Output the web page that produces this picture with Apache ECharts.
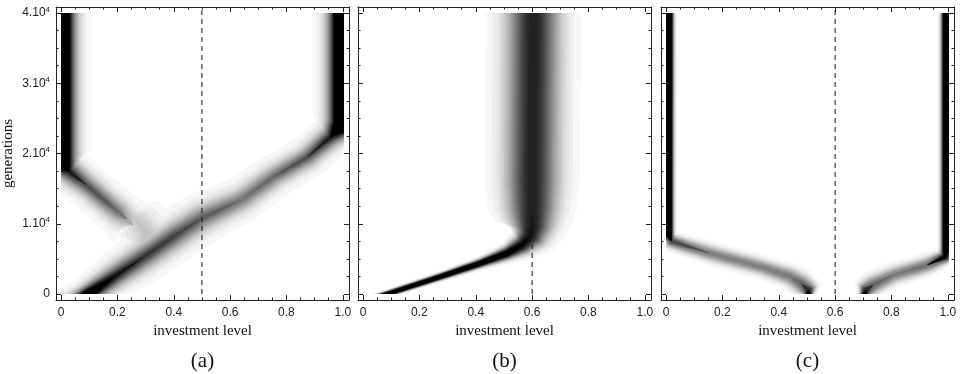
<!DOCTYPE html>
<html>
<head>
<meta charset="utf-8">
<script src="https://cdn.jsdelivr.net/npm/echarts@6/dist/echarts.min.js"></script>
<style>
  html, body { margin: 0; padding: 0; background: #fff; }
  #chart { width: 964px; height: 374px; }
</style>
</head>
<body>
<div id="chart"></div>
<script>
// each row: [generation, investment level, spread, peak density]
const aLeftBranch = [
  [40000, 0.0, 0.024, 2.0],
  [18600, 0.0, 0.024, 2.0],
  [17400, 0.03, 0.022, 0.9],
  [15500, 0.09, 0.021, 0.7],
  [13300, 0.155, 0.021, 0.65],
  [11600, 0.205, 0.023, 0.55],
  [10600, 0.235, 0.026, 0.35],
  [9800, 0.255, 0.028, 0.05],
];
const aCloud = [
  [12000, 0.23, 0.02, 0.03],
  [10400, 0.27, 0.035, 0.22],
  [8500, 0.31, 0.04, 0.24],
  [6500, 0.28, 0.033, 0.16],
  [4500, 0.22, 0.02, 0.03],
];
const aMainBranch = [
  [0, 0.10, 0.016, 1.6],
  [2500, 0.19, 0.021, 0.95],
  [5300, 0.295, 0.024, 0.8],
  [8200, 0.40, 0.025, 0.75],
  [10800, 0.50, 0.025, 0.65],
  [13400, 0.64, 0.023, 0.55],
  [16700, 0.755, 0.021, 0.6],
  [19500, 0.875, 0.02, 0.7],
  [22300, 0.955, 0.02, 0.9],
  [24000, 1.0, 0.024, 2.0],
  [40000, 1.0, 0.024, 2.0],
];
const bBranch = [
  [0, 0.085, 0.006, 1.5],
  [2460, 0.274, 0.007, 1.4],
  [4370, 0.416, 0.009, 1.3],
  [5800, 0.511, 0.014, 1.15],
  [7000, 0.565, 0.022, 1.0],
  [8200, 0.592, 0.034, 0.93],
  [9600, 0.60, 0.046, 0.9],
  [12000, 0.60, 0.056, 0.88],
  [16000, 0.60, 0.06, 0.88],
  [40000, 0.605, 0.06, 0.88],
];
const cLeftBranch = [
  [0, 0.505, 0.01, 1.3],
  [600, 0.505, 0.017, 0.85],
  [1500, 0.48, 0.021, 0.6],
  [2500, 0.44, 0.019, 0.52],
  [3900, 0.334, 0.017, 0.5],
  [5800, 0.156, 0.017, 0.5],
  [7500, 0.02, 0.014, 0.72],
  [8300, 0.01, 0.01, 1.4],
  [40000, 0.01, 0.01, 1.6],
];
const cRightBranch = [
  [0, 0.706, 0.01, 1.3],
  [600, 0.71, 0.017, 0.85],
  [1300, 0.735, 0.02, 0.6],
  [2700, 0.807, 0.018, 0.5],
  [4100, 0.925, 0.017, 0.56],
  [5300, 0.99, 0.013, 1.0],
  [6500, 0.995, 0.011, 1.6],
  [40000, 0.995, 0.011, 1.6],
];

const panelBranches = [[aMainBranch, aLeftBranch, aCloud], [bBranch], [cLeftBranch, cRightBranch]];
const panelLabels = ['(a)', '(b)', '(c)'];
const dashX = [0.5, 0.6, 0.6];
const dashTop = [40850, 7000, 40850];

const xTicks = [0, 0.2, 0.4, 0.6, 0.8, 1.0];
const xMinorTicks = [0.05, 0.1, 0.15, 0.25, 0.3, 0.35, 0.45, 0.5, 0.55, 0.65, 0.7, 0.75, 0.85, 0.9, 0.95];
const yTicks = [0, 10000, 20000, 30000, 40000];
const yMinorTicks = [2500, 5000, 7500, 12500, 15000, 17500, 22500, 25000, 27500, 32500, 35000, 37500];

const X_MIN = -0.018, X_MAX = 1.022;
const Y_MIN = -850, Y_MAX = 40850;
const GEN_END = 40000;
const X_CLIP = 1.003;
const GRID_LEFT = [56, 358, 661];
const GRID_TOP = 7, GRID_SIZE = 293;
// cross-section shape: 2 is a plain gaussian, lower gives a heavier tail
const PROFILE_POWER = [1.5, 2, 2];
const LEVELS = 30;
const INK = '#222';
const SANS = "'Liberation Sans', Arial, sans-serif";
const SERIF = "'Liberation Serif', 'Times New Roman', serif";

function clipPoly(poly, r) {
  const edges = [
    [p => p[0] >= r.x0, (a, b) => lerpAt(a, b, 0, r.x0)],
    [p => p[0] <= r.x1, (a, b) => lerpAt(a, b, 0, r.x1)],
    [p => p[1] >= r.y0, (a, b) => lerpAt(a, b, 1, r.y0)],
    [p => p[1] <= r.y1, (a, b) => lerpAt(a, b, 1, r.y1)],
  ];
  let out = poly;
  for (const [inside, cut] of edges) {
    const src = out;
    out = [];
    for (let i = 0; i < src.length; i++) {
      const cur = src[i], prev = src[(i + src.length - 1) % src.length];
      if (inside(cur)) {
        if (!inside(prev)) out.push(cut(prev, cur));
        out.push(cur);
      } else if (inside(prev)) {
        out.push(cut(prev, cur));
      }
    }
    if (!out.length) break;
  }
  return out;
}

function lerpAt(a, b, axis, v) {
  const t = (v - a[axis]) / (b[axis] - a[axis]);
  return [a[0] + (b[0] - a[0]) * t, a[1] + (b[1] - a[1]) * t];
}

function norm(v) {
  const l = Math.hypot(v[0], v[1]) || 1;
  return [v[0] / l, v[1] / l];
}

const touchesEdge = row => row[0] === 0 || row[0] === GEN_END;

function renderBands(branches, power) {
  return function (params, api) {
    const rows = branches[api.value(2)];
    const unit = api.size([1, 0])[0];
    const c0 = api.coord([0, 0]);
    const c1 = api.coord([X_CLIP, GEN_END]);
    const rect = { x0: c0[0], x1: c1[0], y0: c1[1], y1: c0[1] };

    const pts = rows.map(r => api.coord([r[1], r[0]]));
    const par = rows.slice();
    // ends sitting on the frame are pushed past it, so the clip cuts them flat
    if (touchesEdge(rows[0])) {
      const d = norm([pts[1][0] - pts[0][0], pts[1][1] - pts[0][1]]);
      pts.unshift([pts[0][0] - d[0] * 40, pts[0][1] - d[1] * 40]);
      par.unshift(rows[0]);
    }
    if (touchesEdge(rows[rows.length - 1])) {
      const a = pts[pts.length - 2], b = pts[pts.length - 1];
      const d = norm([b[0] - a[0], b[1] - a[1]]);
      pts.push([b[0] + d[0] * 40, b[1] + d[1] * 40]);
      par.push(rows[rows.length - 1]);
    }

    const segs = [];
    for (let i = 0; i < pts.length - 1; i++) {
      segs.push(norm([pts[i + 1][0] - pts[i][0], pts[i + 1][1] - pts[i][1]]));
    }
    const normals = pts.map((p, i) => {
      const a = segs[Math.max(0, i - 1)], b = segs[Math.min(segs.length - 1, i)];
      const na = [-a[1], a[0]], nb = [-b[1], b[0]];
      const m = norm([na[0] + nb[0], na[1] + nb[1]]);
      const k = 1 / Math.max(0.35, m[0] * na[0] + m[1] * na[1]);
      return [m[0] * k, m[1] * k];
    });

    const children = [];
    for (let lv = 1; lv <= LEVELS; lv++) {
      const t = (lv - 0.5) / LEVELS;
      const left = [], right = [];
      let any = false;
      pts.forEach((p, i) => {
        const [, , s, d] = par[i];
        const w = d > t ? s * unit * Math.pow(2 * Math.log(d / t), 1 / power) : 0;
        if (w > 0) any = true;
        left.push([p[0] + normals[i][0] * w, p[1] + normals[i][1] * w]);
        right.push([p[0] - normals[i][0] * w, p[1] - normals[i][1] * w]);
      });
      if (!any) continue;
      const poly = clipPoly(left.concat(right.reverse()), rect);
      if (poly.length < 3) continue;
      const v = Math.round(255 * (1 - lv / LEVELS));
      children.push({
        type: 'polygon',
        z2: lv,
        shape: { points: poly },
        style: { fill: `rgb(${v},${v},${v})` },
      });
    }
    return { type: 'group', children };
  };
}

const grids = [], xAxes = [], yAxes = [], series = [];

GRID_LEFT.forEach((left, g) => {
  grids.push({ left, top: GRID_TOP, width: GRID_SIZE, height: GRID_SIZE });

  const xBase = {
    type: 'value', gridIndex: g, min: X_MIN, max: X_MAX,
    splitLine: { show: false },
    axisLine: { onZero: false, lineStyle: { color: INK, width: 1 } },
    axisLabel: { show: false },
  };
  xAxes.push(Object.assign({}, xBase, {
    position: 'bottom',
    name: 'investment level', nameLocation: 'middle', nameGap: 17,
    nameTextStyle: { fontFamily: SERIF, fontSize: 15, color: '#111' },
    axisTick: { inside: true, length: 5, customValues: xTicks, lineStyle: { color: INK } },
    axisLabel: {
      show: true, customValues: xTicks, margin: 7,
      fontFamily: SANS, fontSize: 12, color: INK,
      formatter: v => (v === 1 ? '1.0' : String(v)),
    },
  }));
  xAxes.push(Object.assign({}, xBase, {
    position: 'bottom', axisLine: { show: false, onZero: false },
    axisTick: { inside: true, length: 2.5, customValues: xMinorTicks, lineStyle: { color: INK } },
  }));
  xAxes.push(Object.assign({}, xBase, {
    position: 'top',
    axisTick: { inside: true, length: 5, customValues: xTicks, lineStyle: { color: INK } },
  }));
  xAxes.push(Object.assign({}, xBase, {
    position: 'top', axisLine: { show: false, onZero: false },
    axisTick: { inside: true, length: 2.5, customValues: xMinorTicks, lineStyle: { color: INK } },
  }));

  const yBase = {
    type: 'value', gridIndex: g, min: Y_MIN, max: Y_MAX,
    splitLine: { show: false },
    axisLine: { onZero: false, lineStyle: { color: INK, width: 1 } },
    axisLabel: { show: false },
  };
  yAxes.push(Object.assign({}, yBase, {
    position: 'left',
    name: g === 0 ? 'generations' : '', nameLocation: 'middle', nameGap: 40,
    nameTextStyle: { fontFamily: SERIF, fontSize: 15, color: '#111' },
    axisTick: { inside: true, length: 5, customValues: yTicks, lineStyle: { color: INK } },
    axisLabel: {
      show: g === 0, customValues: yTicks, margin: 6,
      fontFamily: SANS, fontSize: 12, color: INK,
      formatter: v => (v === 0 ? '0' : `${v / 10000}.10{sup|4}`),
      rich: { sup: { fontFamily: SANS, fontSize: 8, color: INK, padding: [0, 0, 7, 0] } },
    },
  }));
  yAxes.push(Object.assign({}, yBase, {
    position: 'left', axisLine: { show: false, onZero: false },
    axisTick: { inside: true, length: 2.5, customValues: yMinorTicks, lineStyle: { color: INK } },
  }));
  yAxes.push(Object.assign({}, yBase, {
    position: 'right',
    axisTick: { inside: true, length: 5, customValues: yTicks, lineStyle: { color: INK } },
  }));
  yAxes.push(Object.assign({}, yBase, {
    position: 'right', axisLine: { show: false, onZero: false },
    axisTick: { inside: true, length: 2.5, customValues: yMinorTicks, lineStyle: { color: INK } },
  }));

  const branches = panelBranches[g];
  series.push({
    type: 'custom',
    xAxisIndex: 4 * g, yAxisIndex: 4 * g,
    silent: true,
    renderItem: renderBands(branches, PROFILE_POWER[g]),
    data: branches.map((b, i) => [b[0][1], b[0][0], i]),
    z: 2,
  });
  series.push({
    type: 'line',
    xAxisIndex: 4 * g, yAxisIndex: 4 * g,
    silent: true, symbol: 'none',
    data: [[dashX[g], 0], [dashX[g], dashTop[g]]],
    lineStyle: { color: '#111', width: 1, type: [5, 4] },
    z: 5,
  });
});

const chart = echarts.init(document.getElementById('chart'));
chart.setOption({
  animation: false,
  backgroundColor: '#fff',
  grid: grids,
  xAxis: xAxes,
  yAxis: yAxes,
  series,
  graphic: panelLabels.map((text, g) => ({
    type: 'text',
    x: GRID_LEFT[g] + GRID_SIZE / 2,
    y: 361,
    style: { text, font: `21px ${SERIF}`, fill: '#111', textAlign: 'center', textVerticalAlign: 'middle' },
  })),
});
</script>
</body>
</html>
